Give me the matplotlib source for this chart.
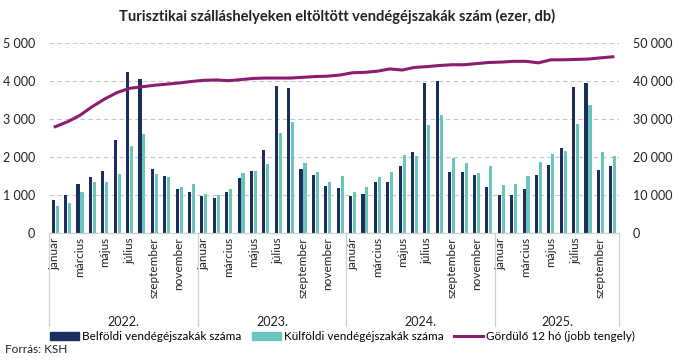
import numpy as np
import matplotlib.pyplot as plt
from matplotlib.patches import Rectangle
from matplotlib.lines import Line2D
from matplotlib.ticker import FuncFormatter, MultipleLocator

plt.rcParams['font.family'] = ['Lato', 'DejaVu Sans']

months = ['január', 'február', 'március', 'április', 'május', 'június',
          'július', 'augusztus', 'szeptember', 'október', 'november', 'december']
years = ['2022.', '2023.', '2024.', '2025.']
months_per_year = [12, 12, 12, 10]

# belföldi vendégéjszakák (ezer)
domestic = [868, 1000, 1290, 1482, 1632, 2439, 4237, 4061, 1675, 1500, 1149, 1088,
            965, 912, 1088, 1439, 1623, 2175, 3860, 3807, 1684, 1535, 1228, 1190,
            978, 1031, 1339, 1339, 1753, 2141, 3938, 4000, 1621, 1604, 1524, 1207,
            996, 1004, 1163, 1524, 1780, 2247, 3833, 3956, 1665, 1771]
# külföldi vendégéjszakák (ezer)
foreign = [719, 798, 1088, 1333, 1351, 1561, 2281, 2605, 1561, 1474, 1219, 1289,
           1018, 1009, 1167, 1570, 1640, 1825, 2640, 2930, 1842, 1614, 1351, 1507,
           1093, 1216, 1489, 1604, 2044, 2026, 2837, 3110, 1982, 1850, 1577, 1753,
           1269, 1295, 1507, 1877, 2088, 2167, 2863, 3383, 2132, 2035]
# gördülő 12 hó (ezer, jobb tengely)
rolling = [28000, 29300, 31000, 33300, 35300, 37000, 38100, 38500, 38900, 39200, 39500, 39900,
           40200, 40300, 40100, 40400, 40700, 40800, 40800, 40800, 41000, 41200, 41300, 41600,
           42200, 42300, 42600, 43200, 42900, 43600, 43800, 44100, 44300, 44300, 44600, 44900,
           45000, 45200, 45200, 44800, 45600, 45600, 45700, 45800, 46100, 46400]

c_dom = '#1B2F5E'
c_for = '#6CC5BD'
c_line = '#8B1C6E'

x = np.arange(len(domestic))
fig = plt.figure(figsize=(6.75, 3.62), dpi=100)
ax = fig.add_axes([0.0726, 0.356, 0.8444, 0.525])

ax.bar(x - 0.16, domestic, width=0.25, color=c_dom, zorder=3)
ax.bar(x + 0.16, foreign, width=0.25, color=c_for, zorder=3)
ax.set_ylim(0, 5000)
ax.set_xlim(-0.5, len(x) - 0.5)
ax.yaxis.set_major_locator(MultipleLocator(1000))
fmt = FuncFormatter(lambda v, p: f'{v:,.0f}'.replace(',', ' '))
ax.yaxis.set_major_formatter(fmt)
ax.grid(axis='y', color='#c8c8c8', linestyle=(0, (4, 3)), linewidth=0.8, zorder=0)

ax2 = ax.twinx()
ax2.plot(x, rolling, color=c_line, linewidth=2.2, zorder=4)
ax2.set_ylim(0, 50000)
ax2.yaxis.set_major_locator(MultipleLocator(10000))
ax2.yaxis.set_major_formatter(fmt)

for a in (ax, ax2):
    for s in ('top', 'left', 'right'):
        a.spines[s].set_visible(False)
    a.spines['bottom'].set_color('#d0d0d0')
    a.tick_params(axis='y', length=0, labelsize=9, colors='#222222')
ax.tick_params(axis='y', pad=10)
ax2.tick_params(axis='y', pad=10)

# kategória tengely
labels = []
for n in months_per_year:
    labels += months[:n]
ticks = [i for i in x if i % 2 == 0]
ax.set_xticks(ticks)
ax.set_xticklabels([labels[i] for i in ticks], rotation=90, fontsize=8.5, color='#222222')
ax.tick_params(axis='x', length=0, pad=3)

trans = ax.get_xaxis_transform()
start = 0
for yr, n in zip(years, months_per_year):
    ax.text(start + n / 2 - 0.5, -0.47, yr, transform=trans, ha='center', va='center',
            fontsize=9, color='#222222')
    start += n
bounds = [-0.5]
for n in months_per_year:
    bounds.append(bounds[-1] + n)
for b in bounds:
    ax.add_line(Line2D([b, b], [0, -0.49], transform=trans, color='#d0d0d0',
                       linewidth=0.9, clip_on=False))

fig.suptitle('Turisztikai szálláshelyeken eltöltött vendégéjszakák szám (ezer, db)',
             x=0.5, y=0.975, fontsize=10.5, fontweight='bold', color='#222222')

handles = [Rectangle((0, 0), 1, 1, color=c_dom), Rectangle((0, 0), 1, 1, color=c_for),
           Line2D([0], [0], color=c_line, linewidth=2.2)]
fig.legend(handles, ['Belföldi vendégéjszakák száma', 'Külföldi vendégéjszakák száma',
                     'Gördülő 12 hó (jobb tengely)'],
           loc='center', bbox_to_anchor=(0.507, 0.07), ncol=3, frameon=False,
           fontsize=8.5, handlelength=2.5, handleheight=0.55, columnspacing=0.9,
           handletextpad=0.2)
fig.text(0.007, 0.035, 'Forrás: KSH', fontsize=8.5, color='#222222', va='center')

fig.savefig('out.png', dpi=100)
